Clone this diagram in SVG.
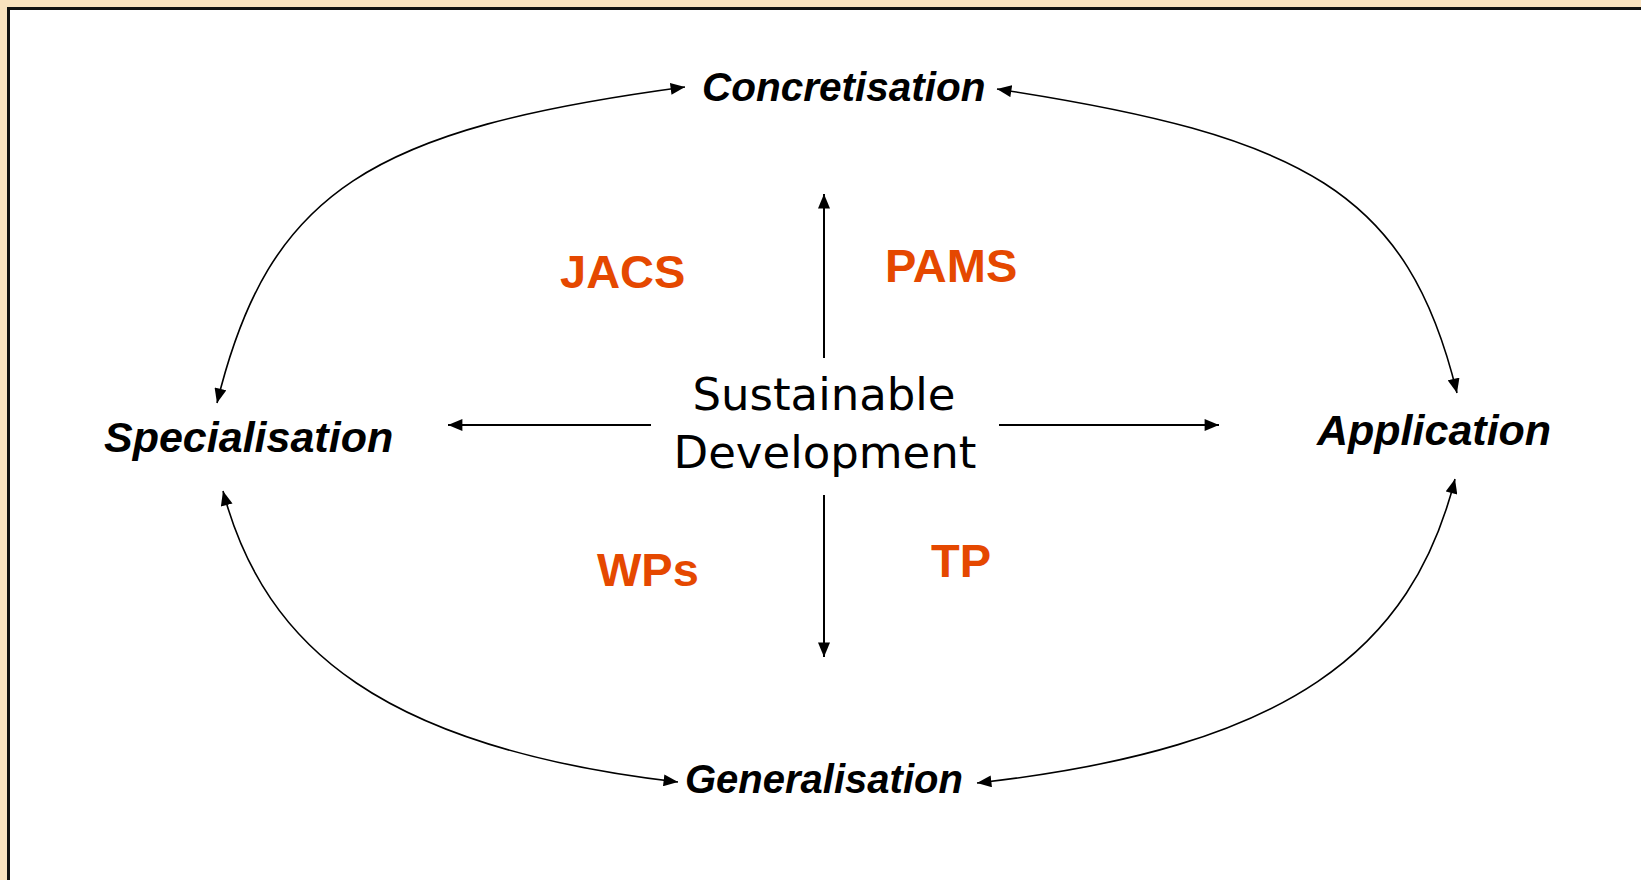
<svg xmlns="http://www.w3.org/2000/svg" width="1641" height="880" viewBox="0 0 1641 880">
<style>
.lbl{font-family:"Liberation Sans",Arial,sans-serif;font-weight:bold;font-style:italic;fill:#000}
.red{font-family:"Liberation Sans",Arial,sans-serif;font-weight:bold;font-size:47px;fill:#E54800}
.core{font-family:"DejaVu Sans",sans-serif;font-size:45px;fill:#000;text-anchor:middle}
.cur{fill:none;stroke:#000;stroke-width:1.6}
.ax{fill:none;stroke:#000;stroke-width:2}
</style>
<defs>
<marker id="ah" viewBox="0 0 12 10" refX="12" refY="5" markerWidth="15" markerHeight="12" markerUnits="userSpaceOnUse" orient="auto-start-reverse">
<path d="M0,0 L12,5 L0,10 z" fill="#000"/>
</marker>
</defs>
<rect x="0" y="0" width="1641" height="880" fill="#F9E2BF"/>
<rect x="8.5" y="8.5" width="1700" height="900" fill="#fff" stroke="#111" stroke-width="3"/>
<g id="connectors">
<path class="cur" d="M217,403 C269,190 372,129 685,87" marker-start="url(#ah)" marker-end="url(#ah)"/>
<path class="cur" d="M997,89 C1305,136 1408,192 1457,393" marker-start="url(#ah)" marker-end="url(#ah)"/>
<path class="cur" d="M223,491 C265,649 385,748 678,782" marker-start="url(#ah)" marker-end="url(#ah)"/>
<path class="cur" d="M977,783 C1291,748 1412,649 1455,479" marker-start="url(#ah)" marker-end="url(#ah)"/>
<line class="ax" x1="651" y1="425" x2="448" y2="425" marker-end="url(#ah)"/>
<line class="ax" x1="999" y1="425" x2="1219" y2="425" marker-end="url(#ah)"/>
<line class="ax" x1="824" y1="358" x2="824" y2="194" marker-end="url(#ah)"/>
<line class="ax" x1="824" y1="495" x2="824" y2="657" marker-end="url(#ah)"/>
</g>
<g id="concretisation"><text class="lbl" x="702" y="101" font-size="40.5">Concretisation</text></g>
<g id="specialisation"><text class="lbl" x="104" y="452" font-size="43">Specialisation</text></g>
<g id="application"><text class="lbl" x="1317" y="445" font-size="43">Application</text></g>
<g id="generalisation"><text class="lbl" x="685" y="793" font-size="40">Generalisation</text></g>
<g id="sustainable-development">
<text class="core" x="824" y="410">Sustainable</text>
<text class="core" x="825" y="468">Development</text>
</g>
<g id="jacs"><text class="red" x="560" y="288">JACS</text></g>
<g id="pams"><text class="red" x="885" y="282">PAMS</text></g>
<g id="wps"><text class="red" x="597" y="586">WPs</text></g>
<g id="tp"><text class="red" x="931" y="577">TP</text></g>
</svg>
